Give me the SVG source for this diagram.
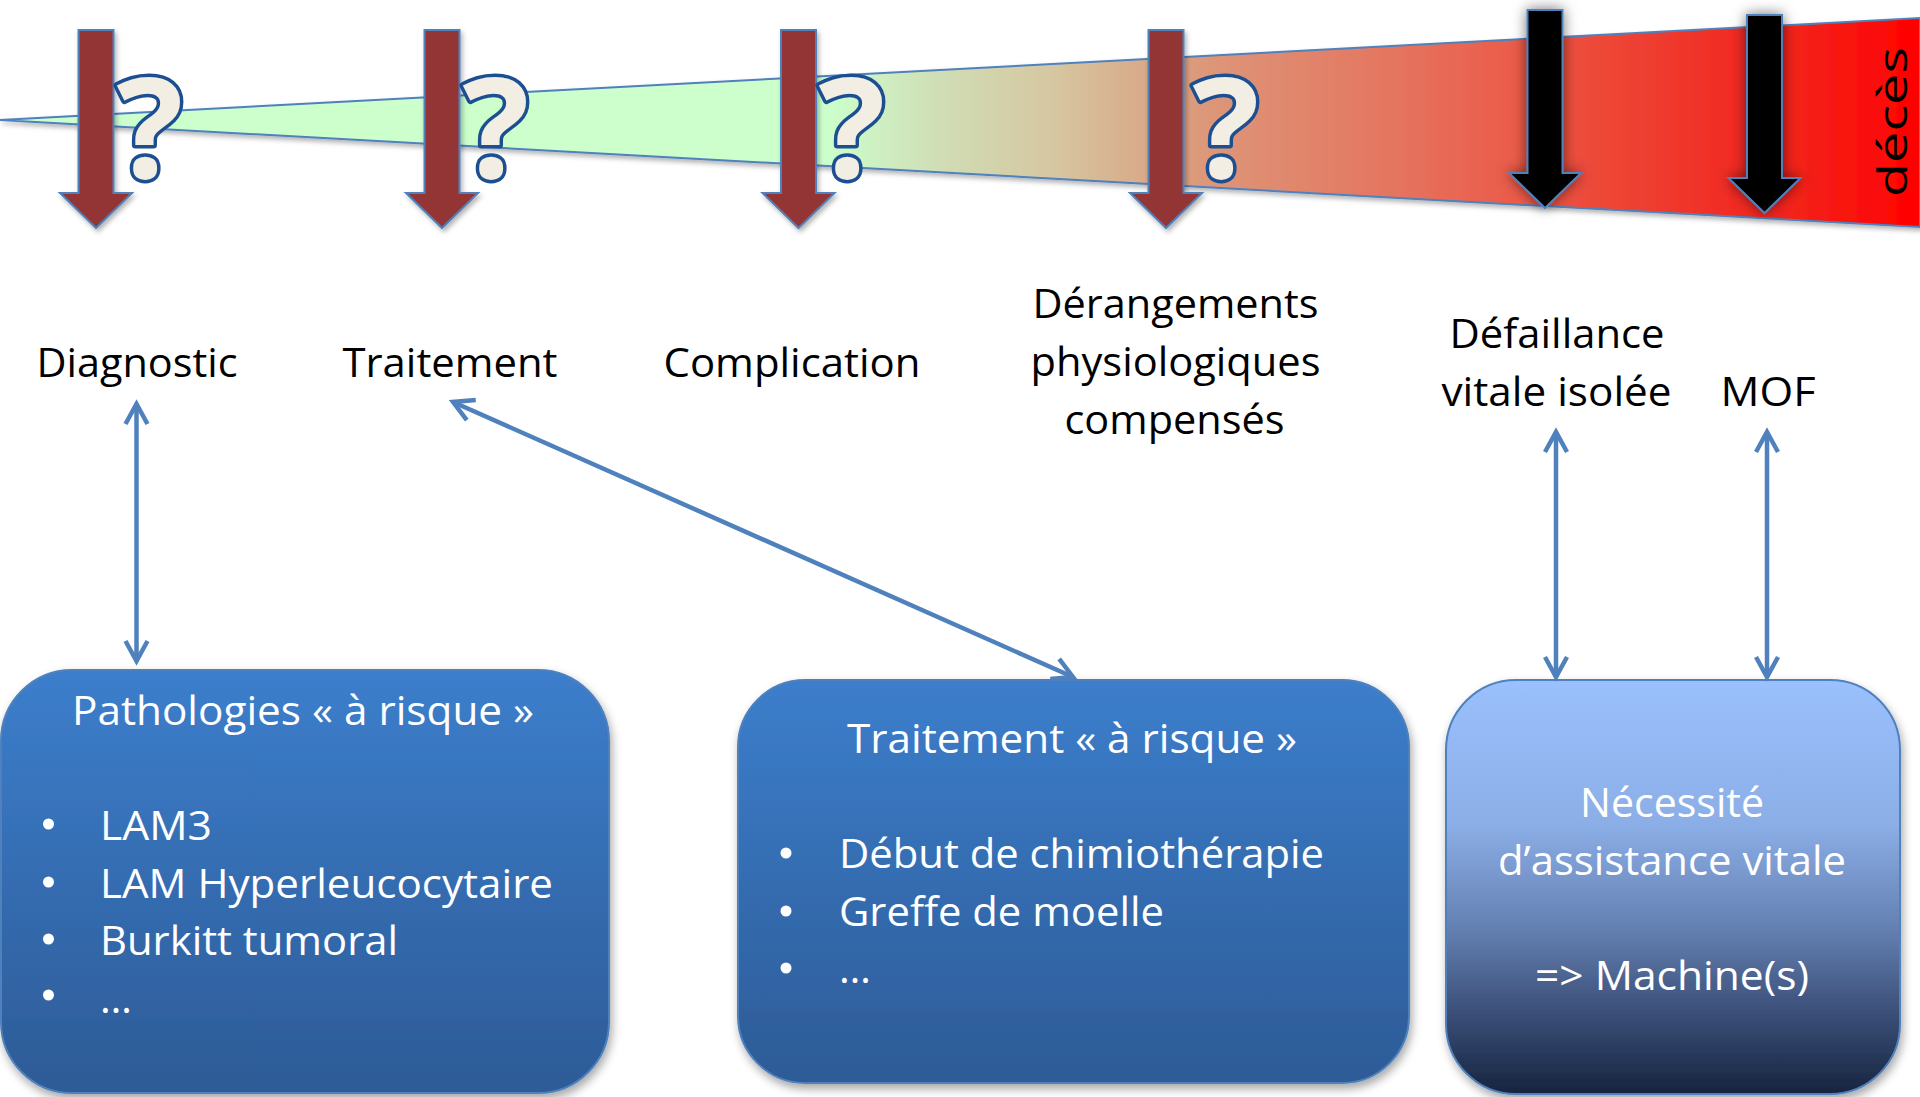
<svg xmlns="http://www.w3.org/2000/svg" width="1920" height="1097" viewBox="0 0 1920 1097">
<style>
.t{font-family:"Open Sans","Liberation Sans",sans-serif;font-size:41px}
.blk{fill:#000}
.wht{fill:#fff}
.mid{text-anchor:middle}
.bul{fill:#fff}
.q{font-family:"Open Sans","Liberation Sans",sans-serif;font-weight:bold;font-size:140px;fill:#F2EEE3;stroke:#1C4F91;stroke-width:7;paint-order:stroke;stroke-linejoin:round;text-anchor:middle}
.conn{stroke:#4F81BD;stroke-width:4.5;fill:none;marker-start:url(#oa);marker-end:url(#oa)}
.box{stroke:#4F81BD;stroke-width:2}
</style>
<defs>
<linearGradient id="wedgeG" gradientUnits="userSpaceOnUse" x1="0" y1="0" x2="1920" y2="0">
<stop offset="0" stop-color="#CCFFCC"/>
<stop offset="0.43" stop-color="#CCFFCC"/>
<stop offset="0.49" stop-color="#D0DDB5"/>
<stop offset="0.55" stop-color="#D6C6A0"/>
<stop offset="0.59" stop-color="#D8AE8C"/>
<stop offset="0.63" stop-color="#DD9678"/>
<stop offset="0.67" stop-color="#E0886E"/>
<stop offset="0.73" stop-color="#E5735E"/>
<stop offset="0.78" stop-color="#EA5F4D"/>
<stop offset="0.84" stop-color="#EE4535"/>
<stop offset="0.89" stop-color="#F03028"/>
<stop offset="0.94" stop-color="#F42018"/>
<stop offset="1" stop-color="#FF0000"/>
</linearGradient>
<linearGradient id="blueG" x1="0" y1="0" x2="0" y2="1">
<stop offset="0" stop-color="#3C7ECC"/>
<stop offset="1" stop-color="#2D5B96"/>
</linearGradient>
<linearGradient id="darkG" x1="0" y1="0" x2="0" y2="1">
<stop offset="0" stop-color="#9AC0FD"/>
<stop offset="0.35" stop-color="#8BAEE6"/>
<stop offset="0.6" stop-color="#6480B2"/>
<stop offset="0.8" stop-color="#3B5079"/>
<stop offset="1" stop-color="#17243F"/>
</linearGradient>
<filter id="sh" x="-10%" y="-10%" width="120%" height="125%">
<feDropShadow dx="2" dy="5" stdDeviation="5" flood-color="#000" flood-opacity="0.35"/>
</filter>
<filter id="sh2" x="-30%" y="-10%" width="160%" height="130%">
<feDropShadow dx="2" dy="3" stdDeviation="2.5" flood-color="#000" flood-opacity="0.3"/>
</filter>
<filter id="glow" x="-80%" y="-20%" width="260%" height="140%">
<feDropShadow dx="0" dy="0" stdDeviation="7" flood-color="#000" flood-opacity="0.55"/>
</filter>
<path id="downArrow" d="M-17.5,0 H17.5 V163 H36 L0,198 L-36,163 H-17.5 Z"/>
<circle id="dot" r="5.5"/>
<marker id="oa" markerUnits="userSpaceOnUse" markerWidth="30" markerHeight="30" viewBox="0 0 30 30" refX="25" refY="15" orient="auto-start-reverse">
<path d="M5,4 L25,15 L5,26" fill="none" stroke="#4F81BD" stroke-width="4.5" stroke-linejoin="miter"/>
</marker>
</defs>

<g id="timeline">
<polygon points="0,120 1920,18 1920,227" fill="url(#wedgeG)" stroke="#4F81BD" stroke-width="2" filter="url(#sh2)"/>
<text class="t blk mid" transform="translate(1907,122) rotate(-90)" font-size="56" textLength="150" lengthAdjust="spacingAndGlyphs">décès</text>
</g>

<g id="arrow-diagnostic">
<use href="#downArrow" x="96" y="30" fill="#943634" stroke="#4F81BD" stroke-width="2" filter="url(#sh2)"/>
<text class="q" x="150" y="178">?</text>
</g>
<g id="arrow-traitement">
<use href="#downArrow" x="442" y="30" fill="#943634" stroke="#4F81BD" stroke-width="2" filter="url(#sh2)"/>
<text class="q" x="496" y="178">?</text>
</g>
<g id="arrow-complication">
<use href="#downArrow" x="798.5" y="30" fill="#943634" stroke="#4F81BD" stroke-width="2" filter="url(#sh2)"/>
<text class="q" x="852" y="178">?</text>
</g>
<g id="arrow-derangements">
<use href="#downArrow" x="1166" y="30" fill="#943634" stroke="#4F81BD" stroke-width="2" filter="url(#sh2)"/>
<text class="q" x="1226" y="178">?</text>
</g>
<g id="arrow-defaillance">
<use href="#downArrow" x="1545" y="10" fill="#000" stroke="#4F81BD" stroke-width="2" filter="url(#glow)"/>
</g>
<g id="arrow-mof">
<use href="#downArrow" x="1764.5" y="15" fill="#000" stroke="#4F81BD" stroke-width="2" filter="url(#glow)"/>
</g>

<g id="label-diagnostic"><text class="t blk mid" x="137" y="377" textLength="201" lengthAdjust="spacingAndGlyphs">Diagnostic</text></g>
<g id="label-traitement"><text class="t blk mid" x="450" y="377" textLength="215" lengthAdjust="spacingAndGlyphs">Traitement</text></g>
<g id="label-complication"><text class="t blk mid" x="792" y="377" textLength="257" lengthAdjust="spacingAndGlyphs">Complication</text></g>
<g id="label-derangements">
<text class="t blk mid" x="1175.5" y="318" textLength="286" lengthAdjust="spacingAndGlyphs">Dérangements</text>
<text class="t blk mid" x="1175.5" y="376" textLength="290" lengthAdjust="spacingAndGlyphs">physiologiques</text>
<text class="t blk mid" x="1174.5" y="434" textLength="220" lengthAdjust="spacingAndGlyphs">compensés</text>
</g>
<g id="label-defaillance">
<text class="t blk mid" x="1557" y="348" textLength="215" lengthAdjust="spacingAndGlyphs">Défaillance</text>
<text class="t blk mid" x="1556.5" y="406" textLength="230" lengthAdjust="spacingAndGlyphs">vitale isolée</text>
</g>
<g id="label-mof"><text class="t blk mid" x="1768" y="406" textLength="95" lengthAdjust="spacingAndGlyphs">MOF</text></g>

<g id="box-pathologies">
<rect class="box" x="1" y="670" width="608" height="423" rx="71" ry="71" fill="url(#blueG)" filter="url(#sh)"/>
<text class="t wht mid" x="303" y="725" textLength="462" lengthAdjust="spacingAndGlyphs">Pathologies « à risque »</text>
<use href="#dot" class="bul" x="48.5" y="824"/>
<text class="t wht" x="100" y="840" textLength="112" lengthAdjust="spacingAndGlyphs">LAM3</text>
<use href="#dot" class="bul" x="48.5" y="882"/>
<text class="t wht" x="100" y="898" textLength="453" lengthAdjust="spacingAndGlyphs">LAM Hyperleucocytaire</text>
<use href="#dot" class="bul" x="48.5" y="939"/>
<text class="t wht" x="100" y="955" textLength="298" lengthAdjust="spacingAndGlyphs">Burkitt tumoral</text>
<use href="#dot" class="bul" x="48.5" y="995"/>
<text class="t wht" x="100" y="1013">…</text>
</g>

<g id="box-traitement">
<rect class="box" x="738" y="680" width="671" height="403" rx="67" ry="67" fill="url(#blueG)" filter="url(#sh)"/>
<text class="t wht mid" x="1072" y="753" textLength="450" lengthAdjust="spacingAndGlyphs">Traitement « à risque »</text>
<use href="#dot" class="bul" x="786" y="853"/>
<text class="t wht" x="839" y="868" textLength="485" lengthAdjust="spacingAndGlyphs">Début de chimiothérapie</text>
<use href="#dot" class="bul" x="786" y="911"/>
<text class="t wht" x="839" y="926" textLength="325" lengthAdjust="spacingAndGlyphs">Greffe de moelle</text>
<use href="#dot" class="bul" x="786" y="968"/>
<text class="t wht" x="839" y="983">…</text>
</g>

<g id="box-assistance">
<rect class="box" x="1446" y="680" width="454" height="414" rx="70" ry="70" fill="url(#darkG)" filter="url(#sh)"/>
<text class="t wht mid" x="1672" y="817" textLength="184" lengthAdjust="spacingAndGlyphs">Nécessité</text>
<text class="t wht mid" x="1672" y="875" textLength="348" lengthAdjust="spacingAndGlyphs">d’assistance vitale</text>
<text class="t wht mid" x="1672" y="990" textLength="274" lengthAdjust="spacingAndGlyphs">=&gt; Machine(s)</text>
</g>

<g id="connectors">
<line class="conn" x1="136.5" y1="404" x2="136.5" y2="661"/>
<line class="conn" x1="453" y1="402" x2="1073" y2="677"/>
<line class="conn" x1="1556" y1="432" x2="1556" y2="677"/>
<line class="conn" x1="1767" y1="432" x2="1767" y2="677"/>
</g>
</svg>
